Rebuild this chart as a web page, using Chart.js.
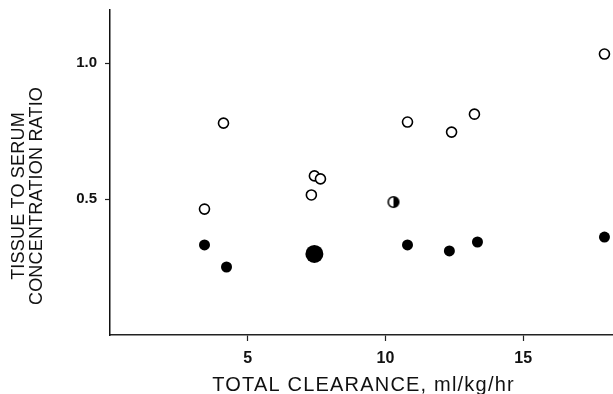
<!DOCTYPE html>
<html>
<head>
<meta charset="utf-8">
<script src="https://cdn.jsdelivr.net/npm/chart.js@4/dist/chart.umd.min.js"></script>
<style>
  html, body { margin: 0; padding: 0; background: #fff; }
  #wrap { width: 613px; height: 394px; }
</style>
</head>
<body>
<div id="wrap"><canvas id="c" width="613" height="394"></canvas></div>
<script>
// ---- data ----
const openX   = [3.43, 4.12, 7.31, 7.42, 7.64, 10.80, 12.40, 13.23, 17.95];
const openY   = [0.463, 0.779, 0.515, 0.585, 0.574, 0.783, 0.746, 0.812, 1.033];
const filledX = [3.43, 4.23, 10.80, 12.32, 13.34, 17.95];
const filledY = [0.331, 0.250, 0.331, 0.309, 0.342, 0.360];
const largeX  = [7.42];
const largeY  = [0.298];
const halfX   = [10.29];
const halfY   = [0.489];
const xTicks  = [5, 10, 15];
const yTicks  = [0.5, 1.0];
const yTickLabels = ['0.5', '1.0'];
const xTitle  = 'TOTAL CLEARANCE, ml/kg/hr';
const yTitle  = ['TISSUE TO SERUM', 'CONCENTRATION RATIO'];

const pts = (xs, ys) => xs.map((x, i) => ({ x: x, y: ys[i] }));

// half-filled marker (left open, right filled)
const half = document.createElement('canvas');
half.width = 14; half.height = 14;
(function () {
  const g = half.getContext('2d');
  g.beginPath(); g.arc(7, 7, 5.3, -Math.PI / 2, Math.PI / 2); g.closePath();
  g.fillStyle = '#000'; g.fill();
  g.beginPath(); g.arc(7, 7, 5.3, 0, Math.PI * 2);
  g.lineWidth = 1.6; g.strokeStyle = '#000'; g.stroke();
})();

const FONT = "'Liberation Sans', Arial, Helvetica, sans-serif";

const titlesPlugin = {
  id: 'axisTitles',
  afterDraw(chart) {
    const ctx = chart.ctx;
    const area = chart.chartArea;
    ctx.save();
    ctx.fillStyle = '#111';
    ctx.textAlign = 'center';
    ctx.textBaseline = 'middle';
    // x title
    ctx.font = '20px ' + FONT;
    try { ctx.letterSpacing = '1.2px'; } catch (e) {}
    ctx.fillText(xTitle, (area.left + area.right) / 2 + 2, 385);
    // y title
    ctx.font = '18px ' + FONT;
    try { ctx.letterSpacing = '0.2px'; } catch (e) {}
    ctx.translate(0, 196);
    ctx.rotate(-Math.PI / 2);
    ctx.fillText(yTitle[0], 0, 19.5);
    ctx.fillText(yTitle[1], 0, 37.5);
    ctx.restore();
  }
};

new Chart(document.getElementById('c'), {
  type: 'scatter',
  data: {
    datasets: [
      { data: pts(openX, openY), pointStyle: 'circle', pointRadius: 5, pointBorderWidth: 1.6,
        pointBackgroundColor: '#fff', pointBorderColor: '#000' },
      { data: pts(filledX, filledY), pointStyle: 'circle', pointRadius: 5.5, pointBorderWidth: 0,
        pointBackgroundColor: '#000', pointBorderColor: '#000' },
      { data: pts(largeX, largeY), pointStyle: 'circle', pointRadius: 9, pointBorderWidth: 0,
        pointBackgroundColor: '#000', pointBorderColor: '#000' },
      { data: pts(halfX, halfY), pointStyle: half, pointRadius: 6 }
    ]
  },
  options: {
    responsive: false,
    animation: false,
    devicePixelRatio: 1,
    clip: false,
    layout: { autoPadding: false, padding: { top: 10, right: 0, left: 0, bottom: 0 } },
    plugins: { legend: { display: false }, tooltip: { enabled: false } },
    scales: {
      x: {
        type: 'linear', min: 0, max: 18.26,
        afterBuildTicks: s => { s.ticks = xTicks.map(v => ({ value: v })); },
        afterFit: s => { s.height = 59; s.paddingLeft = 0; s.paddingRight = 0; },
        grid: { drawOnChartArea: false, drawTicks: true, tickLength: 6, tickWidth: 1.2, tickColor: '#222' },
        border: { display: true, color: '#222', width: 1.5 },
        ticks: { color: '#111', font: { family: FONT, size: 16, weight: 'bold' }, padding: 8, maxRotation: 0 }
      },
      y: {
        type: 'linear', min: 0, max: 1.195,
        afterBuildTicks: s => { s.ticks = yTicks.map(v => ({ value: v })); },
        afterFit: s => { s.width = 110; s.paddingTop = 0; s.paddingBottom = 0; },
        grid: { drawOnChartArea: false, drawTicks: true, tickLength: 5, tickWidth: 1.2, tickColor: '#222' },
        border: { display: true, color: '#111', width: 1.5 },
        ticks: { color: '#111', font: { family: FONT, size: 15, weight: 'bold' }, padding: 8,
                 callback: (v, i) => yTickLabels[i] }
      }
    }
  },
  plugins: [titlesPlugin]
});
</script>
</body>
</html>
